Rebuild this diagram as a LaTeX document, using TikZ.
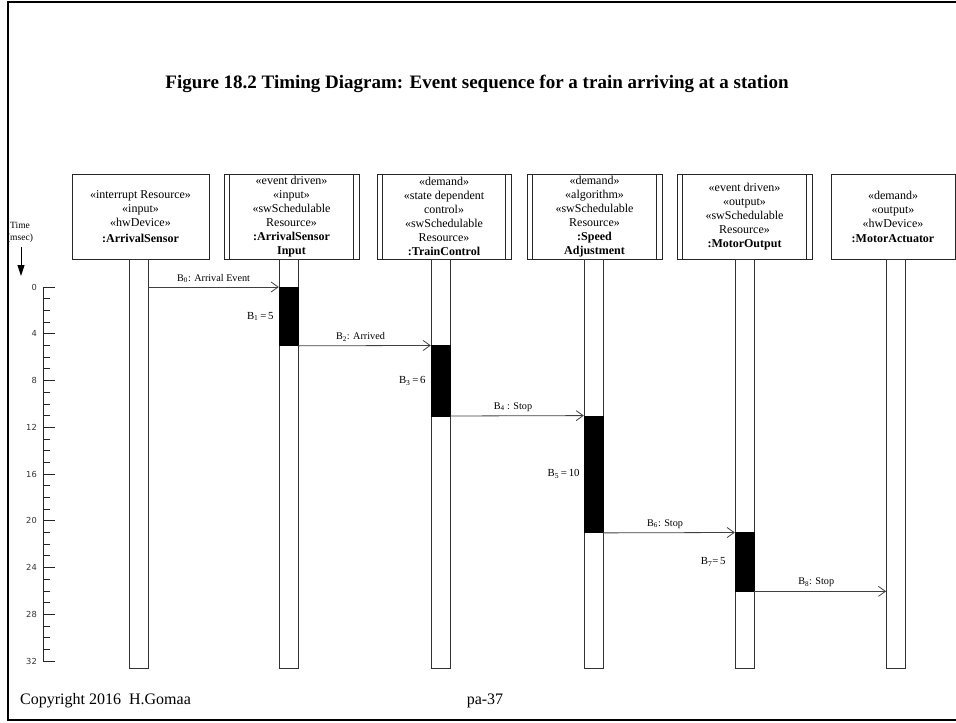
\documentclass[tikz,border=0pt]{standalone}
\usepackage{fontspec}
\setmainfont{Liberation Serif}
\newfontfamily\axisfont{DejaVu Sans}
\usetikzlibrary{arrows.meta}
\begin{document}
\begin{tikzpicture}[x=1pt,y=-1pt,
  objbox/.style={draw=black!85, line width=0.9pt, inner sep=0pt, align=center,
                 minimum height=85pt, font=\fontsize{12}{14}\selectfont},
  bar/.style={draw=black!85, line width=0.9pt},
  life/.style={draw=black!80, line width=0.8pt, fill=white, inner sep=0pt,
               minimum width=19pt, minimum height=409pt, anchor=north},
  exec/.style={fill=black, draw=black, inner sep=0pt, minimum width=19pt, anchor=north},
  msg/.style={draw=black!75, line width=0.8pt,
              -{Straight Barb[length=7pt,width=10pt,line width=0.8pt]}},
  msglbl/.style={font=\fontsize{10.2}{12}\selectfont, anchor=south, inner sep=1pt,
                 yshift=3pt, pos=0.47},
  durlbl/.style={font=\fontsize{10.8}{13}\selectfont, anchor=east, inner sep=0pt, xshift=-5pt},
  ticklbl/.style={font=\axisfont\fontsize{8.3}{9}\selectfont, text=black!80, anchor=east, inner sep=0pt},
]
\useasboundingbox (0,0) rectangle (956,723);
\clip (0,0) rectangle (956,723);

% slide frame
\draw[line width=2.5pt] (970,2) -- (8,2) -- (8,720) -- (970,720);

% title
\node[font=\bfseries\fontsize{19}{22}\selectfont] (title) at (477,84)
  {Figure 18.2 Timing Diagram: Event sequence for a train arriving at a station};

% object heads
\node[objbox, minimum width=137pt] (o1) at (140.5,216.5)
  {«interrupt Resource»\\«input»\\«hwDevice»\\[2pt]\textbf{:ArrivalSensor}};
\node[objbox, minimum width=135pt] (o2) at (291.5,216.5)
  {«event driven»\\«input»\\«swSchedulable\\Resource»\\\textbf{:ArrivalSensor}\\\textbf{Input}};
\node[objbox, minimum width=134pt] (o3) at (444,216.5)
  {«demand»\\«state dependent\\control»\\«swSchedulable\\Resource»\\\textbf{:TrainControl}};
\node[objbox, minimum width=135pt] (o4) at (594.5,216.5)
  {«demand»\\«algorithm»\\«swSchedulable\\Resource»\\\textbf{:Speed}\\\textbf{Adjustment}};
\node[objbox, minimum width=135pt] (o5) at (744.5,216.5)
  {«event driven»\\«output»\\«swSchedulable\\Resource»\\\textbf{:MotorOutput}};
\node[objbox, minimum width=124pt] (o6) at (893,216.5)
  {«demand»\\«output»\\«hwDevice»\\[1pt]\textbf{:MotorActuator}};

% active objects carry double side bars
\foreach \o in {o2,o3,o4,o5} {
  \draw[bar] ([xshift=6pt]\o.north west) -- ([xshift=6pt]\o.south west);
  \draw[bar] ([xshift=-6pt]\o.north east) -- ([xshift=-6pt]\o.south east);
}

% lifelines
\node[life] (L1) at (138.5,259) {};
\node[life] (L2) at (288.5,259) {};
\node[life] (L3) at (440.5,259) {};
\node[life] (L4) at (593.5,259) {};
\node[life] (L5) at (744.5,259) {};
\node[life] (L6) at (896,259) {};

% execution occurrences (11.69 units per msec, t=0 at 287)
\node[exec, minimum height=58.45pt]  (A1) at (288.5,287) {};
\node[exec, minimum height=70.14pt]  (A2) at (440.5,345.45) {};
\node[exec, minimum height=116.9pt]  (A3) at (593.5,415.59) {};
\node[exec, minimum height=58.45pt]  (A4) at (744.5,532.49) {};

% messages
\draw[msg] (L1.east |- A1.north) -- node[msglbl, pos=0.5]{B\textsubscript{0}: Arrival Event} (A1.north west);
\draw[msg] (A1.south east) -- node[msglbl]{B\textsubscript{2}: Arrived} (A2.north west);
\draw[msg] (A2.south east) -- node[msglbl]{B\textsubscript{4} : Stop} (A3.north west);
\draw[msg] (A3.south east) -- node[msglbl]{B\textsubscript{6}: Stop} (A4.north west);
\draw[msg] (A4.south east) -- node[msglbl]{B\textsubscript{8}: Stop} (L6.west |- A4.south);

% execution times
\node[durlbl] (d1) at (A1.west) {B\textsubscript{1}\,=\,5};
\node[durlbl] (d3) at (A2.west) {B\textsubscript{3}\,=\,6};
\node[durlbl, xshift=1pt] (d5) at (A3.west) {B\textsubscript{5}\,=\,10};
\node[durlbl, xshift=-4pt] (d7) at (A4.west) {B\textsubscript{7}=\,5};

% time axis
\draw[black!85, line width=0.8pt] (43,287) -- (43,661.08);
\foreach \t in {0,...,32} {
  \pgfmathsetmacro\len{mod(\t,4)==0 ? 12 : 7}
  \draw[black!85, line width=0.8pt] (43,{287+11.69*\t}) -- ({43+\len},{287+11.69*\t});
}
\foreach \t in {0,4,...,32}
  \node[ticklbl] (tk\t) at (37,{287+11.69*\t}) {\t};

\node[align=center, font=\fontsize{9.5}{12.5}\selectfont, inner sep=0pt] (tlbl) at (20,232.5) {Time\\(msec)};
\coordinate (tarr0) at (21,247);
\coordinate (tarr1) at (21,276);
\draw[line width=1pt, -{Triangle[length=11pt,width=7pt]}] (tarr0) -- (tarr1);

% footer
\node[anchor=west, font=\fontsize{16}{18}\selectfont, inner sep=0pt] (copy) at (20,701) {Copyright 2016\ \ H.Gomaa};
\node[font=\fontsize{16}{18}\selectfont, inner sep=0pt] (page) at (485,701) {pa-37};
\end{tikzpicture}
\end{document}
